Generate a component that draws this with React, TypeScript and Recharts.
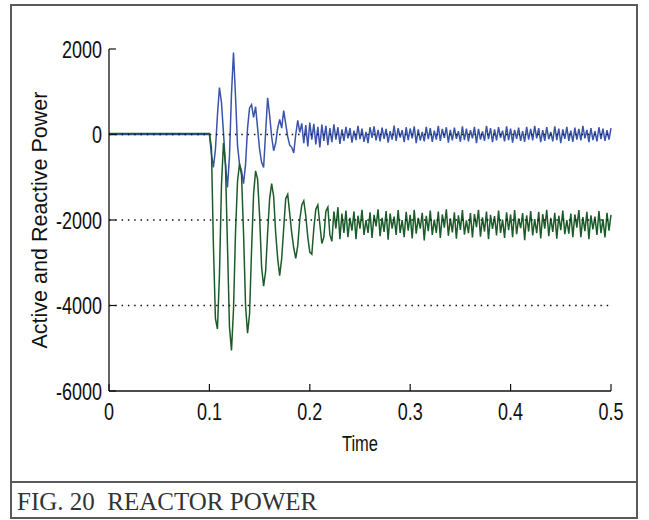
import React from 'react';
import { LineChart, Line, XAxis, YAxis, ReferenceLine } from 'recharts';

// Time samples: t = 0, then 0.100 ... 0.500 every 0.002 s
const sampleStart = 0.1;
const sampleStep = 0.002;
const sampleCount = 201;
const times: number[] = [0, ...Array.from({ length: sampleCount }, (_, i) => +(sampleStart + sampleStep * i).toFixed(3))];

// Blue trace
const activePower: number[] = [
  0,
  0, -450, -770, -350, 450, 1100, 750, 50, -700, -1240,
  -500, 950, 1920, 900, -250, -700, -850, -1150, -700, 150,
  620, 700, 400, 650, 150, -350, -650, -770, 50, 860,
  450, -50, -380, -200, 150, 350, 150, 560, 250, -50,
  -250, -300, -430, 0, 330, 50, 260, -200, 220, -280,
  280, -120, 250, -230, 180, -300, 230, -150, 200, -250,
  150, -180, 240, -120, 170, -220,
  120, -150, 180, -90, 150, -190, 90, -130, 200, -110,
  140, -170, 60, -200, 170, -80, 190, -140, 110, -160,
  160, -100, 130, -190, 80, -120, 210, -150, 150, -70,
  100, -180, 170, -130, 140, -90, 190, -200, 120, -140,
  60, -160, 180, -110, 150, -170, 90, -120, 200, -150,
  130, -80, 170, -190, 110, -140, 160, -100, 80, -170,
  190, -130, 140, -160, 100, -90, 180, -200, 130, -120,
  70, -150, 200, -110, 150, -180, 120, -140, 170, -80,
  90, -160, 190, -130, 140, -190, 110, -100, 160, -150,
  80, -170, 180, -120, 130, -140, 200, -90, 150, -180,
  100, -150, 170, -110, 60, -160, 190, -130, 140, -200,
  120, -100, 180, -150, 90, -170, 160, -120, 130, -140,
  200, -90, 110, -180, 150, -130, 80, -160, 170, -110,
  140, -150, 100, -120, 150,
];

// Green trace
const reactivePower: number[] = [
  25,
  25, -300, -2600, -4300, -4550, -3300, -1200, -200, -700, -2600,
  -4500, -5050, -4100, -2300, -1100, -680, -950, -2300, -4000, -4650,
  -4200, -2700, -1400, -850, -1050, -1900, -3100, -3550, -3200, -2300,
  -1500, -1150, -1450, -2300, -2900, -3300, -2900, -2200, -1500, -1400,
  -1850, -2300, -2650, -2900, -2600, -2000, -1650, -1550, -1900, -2400,
  -2750, -2800, -2200, -1750, -1650, -2100, -2550, -2400, -1800, -1700,
  -2350, -2500, -1800, -2200, -1700, -2450,
  -1850, -2300, -1780, -2400, -1950, -2250, -1800, -2450, -1900, -2200,
  -1760, -2350, -2000, -2300, -1820, -2420, -1880, -2150, -1750, -2380,
  -1950, -2280, -1790, -2460, -1850, -2200, -1920, -2350, -1770, -2300,
  -2000, -2400, -1810, -2250, -1880, -2430, -1760, -2320, -1950, -2200,
  -1830, -2480, -1900, -2260, -1780, -2350, -1990, -2300, -1800, -2420,
  -1870, -2180, -1750, -2370, -1960, -2290, -1820, -2440, -1890, -2230,
  -1770, -2340, -2010, -2310, -1840, -2410, -1860, -2170, -1760, -2390,
  -1940, -2270, -1800, -2450, -1880, -2210, -1910, -2360, -1780, -2300,
  -1990, -2420, -1820, -2240, -1870, -2400, -1770, -2330, -1960, -2190,
  -1840, -2470, -1890, -2270, -1790, -2360, -1980, -2310, -1810, -2430,
  -1860, -2200, -1760, -2380, -1950, -2280, -1830, -2440, -1900, -2240,
  -1780, -2330, -2000, -2320, -1850, -2400, -1870, -2180, -1770, -2400,
  -1930, -2260, -1810, -2450, -1890, -2220, -1920, -2350, -1790, -2310,
  -1980, -2410, -1830, -2250, -1880,
];

const xTicks = [0, 0.1, 0.2, 0.3, 0.4, 0.5];
const xTickLabels = ['0', '0.1', '0.2', '0.3', '0.4', '0.5'];
const yTicks = [-6000, -4000, -2000, 0, 2000];
const yTickLabels = ['-6000', '-4000', '-2000', '0', '2000'];
const gridValues = [0, -2000, -4000];

const xLabel = 'Time';
const yLabel = 'Active and Reactive Power';
const caption = 'FIG. 20  REACTOR POWER';

const data = times.map((t, i) => ({ t, p: activePower[i], q: reactivePower[i] }));

const AXIS = '#111';
const TICK_FONT = 'Liberation Sans, Arial, Helvetica, sans-serif';

const labelFor = (vals: number[], labels: string[], v: number) => {
  const idx = vals.findIndex((d) => Math.abs(d - v) < 1e-9);
  return idx >= 0 ? labels[idx] : String(v);
};

const BottomTick = (props: any) => {
  const { x, y, payload } = props;
  return (
    <g>
      <line x1={x} y1={y} x2={x} y2={y - 7} stroke={AXIS} strokeWidth={1.2} />
      <text
        transform={`translate(${x},${y + 29}) scale(0.75,1)`}
        textAnchor="middle"
        fontFamily={TICK_FONT}
        fontSize={24}
        fill={AXIS}
      >
        {labelFor(xTicks, xTickLabels, payload.value)}
      </text>
    </g>
  );
};

const TopTick = (props: any) => {
  const { x, y } = props;
  return <line x1={x} y1={y} x2={x} y2={y + 7} stroke={AXIS} strokeWidth={1.2} />;
};

const LeftTick = (props: any) => {
  const { x, y, payload } = props;
  return (
    <g>
      <line x1={x} y1={y} x2={x + 7} y2={y} stroke={AXIS} strokeWidth={1.2} />
      <text
        transform={`translate(${x - 7},${y + 8.5}) scale(0.75,1)`}
        textAnchor="end"
        fontFamily={TICK_FONT}
        fontSize={24}
        fill={AXIS}
      >
        {labelFor(yTicks, yTickLabels, payload.value)}
      </text>
    </g>
  );
};

const RightTick = (props: any) => {
  const { x, y } = props;
  return <line x1={x} y1={y} x2={x - 7} y2={y} stroke={AXIS} strokeWidth={1.2} />;
};

const XLabel = (props: any) => {
  const vb = props.viewBox || {};
  const cx = vb.x + vb.width / 2;
  return (
    <text
      transform={`translate(${cx},${vb.y + 60}) scale(0.75,1)`}
      textAnchor="middle"
      fontFamily={TICK_FONT}
      fontSize={22}
      fill={AXIS}
    >
      {xLabel}
    </text>
  );
};

const YLabel = (props: any) => {
  const vb = props.viewBox || {};
  const cx = vb.x - 9;
  const cy = vb.y + vb.height / 2;
  return (
    <text
      transform={`translate(${cx},${cy}) rotate(-90)`}
      textAnchor="middle"
      dominantBaseline="central"
      fontFamily={TICK_FONT}
      fontSize={21.5}
      fill={AXIS}
    >
      {yLabel}
    </text>
  );
};

export default function App() {
  return (
    <div style={{ position: 'absolute', left: 0, top: 0, width: 649, height: 520, background: '#fff' }}>
      <div
        style={{
          position: 'absolute',
          left: 10,
          top: 4,
          width: 628,
          height: 515,
          border: '2px solid #5a5a5a',
          boxSizing: 'border-box',
        }}
      />
      <div style={{ position: 'absolute', left: 10, top: 481, width: 628, height: 2, background: '#5a5a5a' }} />
      <div
        style={{
          position: 'absolute',
          left: 17,
          top: 489,
          fontFamily: 'Liberation Serif, Times New Roman, serif',
          fontSize: 25,
          lineHeight: '25px',
          color: '#333',
          whiteSpace: 'pre',
        }}
      >
        {caption}
      </div>
      <div style={{ position: 'absolute', left: 0, top: 0 }}>
        <LineChart width={649} height={460} data={data} margin={{ top: 49, right: 38, bottom: 0, left: 49 }}>
          <XAxis
            dataKey="t"
            type="number"
            domain={[0, 0.5]}
            ticks={xTicks}
            interval={0}
            tickSize={0}
            tickMargin={0}
            tickLine={false}
            axisLine={{ stroke: AXIS, strokeWidth: 1.3 }}
            tick={BottomTick}
            height={69}
            label={<XLabel />}
          />
          <XAxis
            xAxisId="top"
            dataKey="t"
            type="number"
            orientation="top"
            domain={[0, 0.5]}
            ticks={xTicks}
            interval={0}
            tickSize={0}
            tickMargin={0}
            tickLine={false}
            axisLine={{ stroke: AXIS, strokeWidth: 1.3 }}
            tick={TopTick}
            height={0}
          />
          <YAxis
            type="number"
            domain={[-6000, 2000]}
            ticks={yTicks}
            interval={0}
            tickSize={0}
            tickMargin={0}
            tickLine={false}
            axisLine={{ stroke: AXIS, strokeWidth: 1.3 }}
            tick={LeftTick}
            width={60}
            label={<YLabel />}
          />
          <YAxis
            yAxisId="right"
            type="number"
            orientation="right"
            domain={[-6000, 2000]}
            ticks={yTicks}
            interval={0}
            tickSize={0}
            tickMargin={0}
            tickLine={false}
            axisLine={{ stroke: AXIS, strokeWidth: 1.3 }}
            tick={RightTick}
            width={0}
          />
          <Line
            dataKey="p"
            type="linear"
            stroke="#3a53ab"
            strokeWidth={1.5}
            dot={false}
            isAnimationActive={false}
          />
          <Line
            dataKey="q"
            type="linear"
            stroke="#1c5c2a"
            strokeWidth={1.5}
            dot={false}
            isAnimationActive={false}
          />
          {gridValues.map((v) => (
            <ReferenceLine key={v} y={v} stroke="#111" strokeWidth={1.3} strokeDasharray="1.5 4.8" />
          ))}
        </LineChart>
      </div>
    </div>
  );
}
